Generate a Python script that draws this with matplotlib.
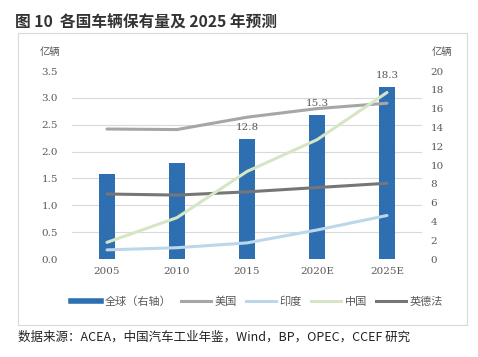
import numpy as np
import matplotlib.pyplot as plt
from matplotlib.patches import Rectangle
from matplotlib.lines import Line2D

plt.rcParams['font.family'] = ['Noto Sans CJK SC', 'DejaVu Sans']

years = ['2005', '2010', '2015', '2020E', '2025E']
world = [9.0, 10.2, 12.8, 15.3, 18.3]          # right axis, bars
usa = [2.42, 2.41, 2.64, 2.80, 2.90]
india = [0.17, 0.21, 0.30, 0.54, 0.81]
china = [0.31, 0.77, 1.63, 2.22, 3.10]
ukdefr = [1.21, 1.19, 1.25, 1.33, 1.41]
bar_labels = {2: '12.8', 3: '15.3', 4: '18.3'}

c_bar = '#2E6FB2'
c_us = '#A6A6A6'
c_in = '#BDD7EA'
c_cn = '#D6E6C4'
c_eu = '#767676'
c_txt = '#595959'

fig = plt.figure(figsize=(4.78, 3.57), dpi=100)

# outer frame
fig.patches.append(Rectangle((0.038, 0.090), 0.938, 0.818, transform=fig.transFigure,
                             fill=False, edgecolor='#D9D9D9', linewidth=0.8))

ax = fig.add_axes([0.1506, 0.2745, 0.7322, 0.5266])
ax2 = ax.twinx()
ax.set_zorder(2)
ax2.set_zorder(1)
ax.patch.set_visible(False)

x = np.arange(len(years))

# bars on right axis
ax2.bar(x, world, width=0.22, color=c_bar, zorder=2)
for i, t in bar_labels.items():
    ax2.annotate(t, (x[i], world[i]), xytext=(0, 5), textcoords='offset points',
                 ha='center', va='bottom', fontsize=7.5, color=c_txt, family='DejaVu Serif')
ax2.set_ylim(0, 20)
ax2.set_yticks(np.arange(0, 21, 2))
# gridlines behind bars, matching left ticks
ax2.set_yticks(np.arange(0, 8) * 20 / 7, minor=True)
ax2.grid(which='minor', axis='y', color='#D9D9D9', linewidth=0.8, zorder=0)
ax2.set_axisbelow(True)
ax2.tick_params(which='both', length=0)
ax2.tick_params(axis='y', labelsize=7.5, labelcolor=c_txt, pad=6)

# lines on left axis
ax.plot(x, usa, color=c_us, lw=2.2, solid_capstyle='round')
ax.plot(x, ukdefr, color=c_eu, lw=2.2, solid_capstyle='round')
ax.plot(x, india, color=c_in, lw=2.2, solid_capstyle='round')
ax.plot(x, china, color=c_cn, lw=2.2, solid_capstyle='round')
ax.set_ylim(0, 3.5)
ax.set_yticks(np.arange(0, 3.51, 0.5))
ax.set_yticklabels([f'{v:.1f}' for v in np.arange(0, 3.51, 0.5)])
ax.set_xlim(-0.5, len(years) - 0.5)
ax.set_xticks(x)
ax.set_xticklabels(years)
ax.tick_params(length=0, labelsize=7.5, labelcolor=c_txt)
ax.tick_params(axis='y', pad=10)
ax.tick_params(axis='x', pad=6)

for a in (ax, ax2):
    for s in a.spines.values():
        s.set_visible(False)
    for lab in a.get_xticklabels() + a.get_yticklabels():
        lab.set_family('DejaVu Serif')

fig.text(0.105, 0.855, '亿辆', fontsize=7.5, color=c_txt, ha='center', va='center')
fig.text(0.925, 0.855, '亿辆', fontsize=7.5, color=c_txt, ha='center', va='center')

# legend
handles = [Line2D([], [], color=c_bar, lw=4),
           Line2D([], [], color=c_us, lw=2.2),
           Line2D([], [], color=c_in, lw=2.2),
           Line2D([], [], color=c_cn, lw=2.2),
           Line2D([], [], color=c_eu, lw=2.2)]
names = ['全球（右轴）', '美国', '印度', '中国', '英德法']
fig.legend(handles, names, loc='center', bbox_to_anchor=(0.538, 0.154), ncol=5,
           frameon=False, fontsize=8, handlelength=2.7, handletextpad=0.35,
           columnspacing=0.8, labelcolor=c_txt)

fig.text(0.032, 0.938, '图 10  各国车辆保有量及 2025 年预测', fontsize=11.3,
         fontweight='bold', color='#333333', ha='left', va='center')
fig.text(0.038, 0.055, '数据来源：ACEA，中国汽车工业年鉴，Wind，BP，OPEC，CCEF 研究',
         fontsize=9, color='#222222', ha='left', va='center')

fig.savefig('out.png', dpi=100)
